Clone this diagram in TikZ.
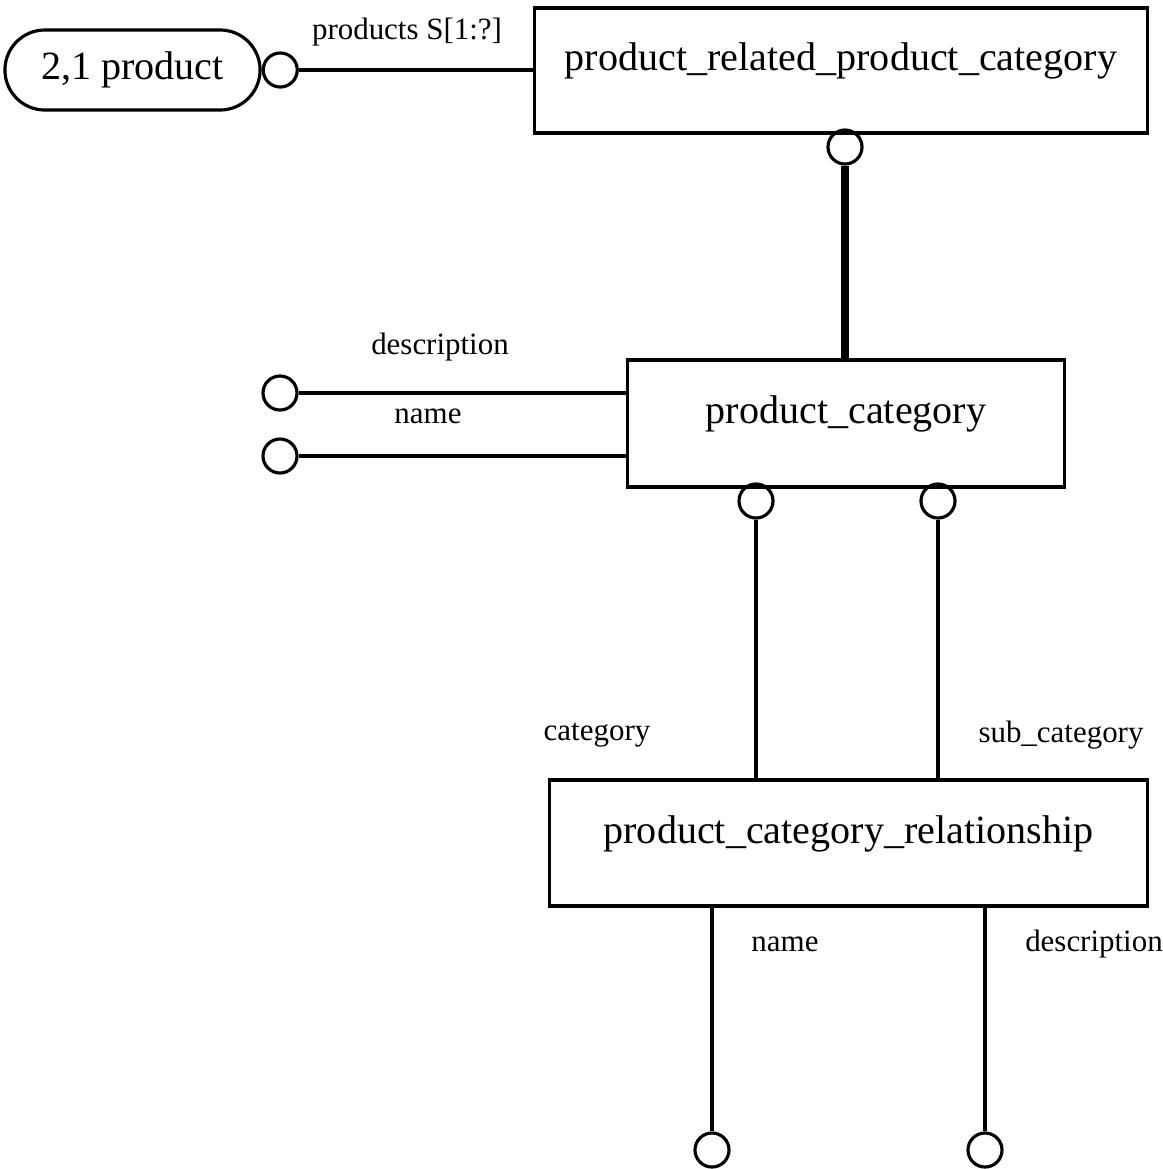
\documentclass[tikz,border=0pt]{standalone}
\usepackage{fontspec}
\setmainfont{Liberation Serif}
\usepackage{tikz}
\usetikzlibrary{positioning}

\tikzset{
	entity/.style={draw, rectangle, line width=0.9pt, inner sep=0pt, text height=0.3cm, text depth=0.3cm, font=\fontsize{11.4}{13}\selectfont},
	ref/.style={draw, rectangle, rounded corners=0.4cm, line width=0.9pt, inner sep=0pt, font=\fontsize{11.4}{13}\selectfont},
	attr/.style={draw, circle, line width=0.9pt, minimum size=0.34cm, inner sep=0pt},
	role/.style={font=\fontsize{8.8}{10}\selectfont, inner sep=0pt},
	rel/.style={line width=0.9pt},
	thickrel/.style={line width=2.4pt}
}

\begin{document}
\begin{tikzpicture}[x=0.01cm, y=-0.01cm, node distance=1cm]
	\useasboundingbox (0,0) rectangle (1163,1169);
	
	\node[entity, minimum width=6.12cm, minimum height=1.25cm] (prpc) at (841,70.5) {product\_related\_product\_category};
	\node[ref, minimum width=2.55cm, minimum height=0.8cm] (prod) at (132.5,70) {2,1 product};
	\node[attr, right = 0pt of prod] (cprod) {};
	\node[entity, minimum width=4.36cm, minimum height=1.27cm] (pc) at (846,423.5) {product\_category};
	\node[entity, minimum width=5.97cm, minimum height=1.26cm] (pcr) at (848.5,843) {product\_category\_relationship};
	
	\node[attr] (cprpc) at (845,147) {};
	\node[attr] (cdesc) at (280,393) {};
	\node[attr] (cname) at (280,456) {};
	\node[attr] (ccat) at (756,501) {};
	\node[attr] (csub) at (938,501) {};
	\node[attr] (cname2) at (712,1150) {};
	\node[attr] (cdesc2) at (985,1150) {};
	
	\node[role] (lprod) at (407,32) {products S[1:?]};
	\node[role] (ldesc) at (440,347) {description};
	\node[role] (lname) at (428,416) {name};
	\node[role] (lcat) at (597,735) {category};
	\node[role] (lsub) at (1061,735) {sub\_category};
	\node[role] (lname2) at (785,944) {name};
	\node[role] (ldesc2) at (1094,944) {description};
	
	\draw[rel] (cprod.east) -- (cprod.east -| prpc.west);
	\draw[thickrel] (cprpc.south) -- (cprpc.south |- pc.north);
	\draw[rel] (cdesc.east) -- (cdesc.east -| pc.west);
	\draw[rel] (cname.east) -- (cname.east -| pc.west);
	\draw[rel] (ccat.south) -- (ccat.south |- pcr.north);
	\draw[rel] (csub.south) -- (csub.south |- pcr.north);
	\draw[rel] (cname2.north |- pcr.south) -- (cname2.north);
	\draw[rel] (cdesc2.north |- pcr.south) -- (cdesc2.north);
	
\end{tikzpicture}
\end{document}
